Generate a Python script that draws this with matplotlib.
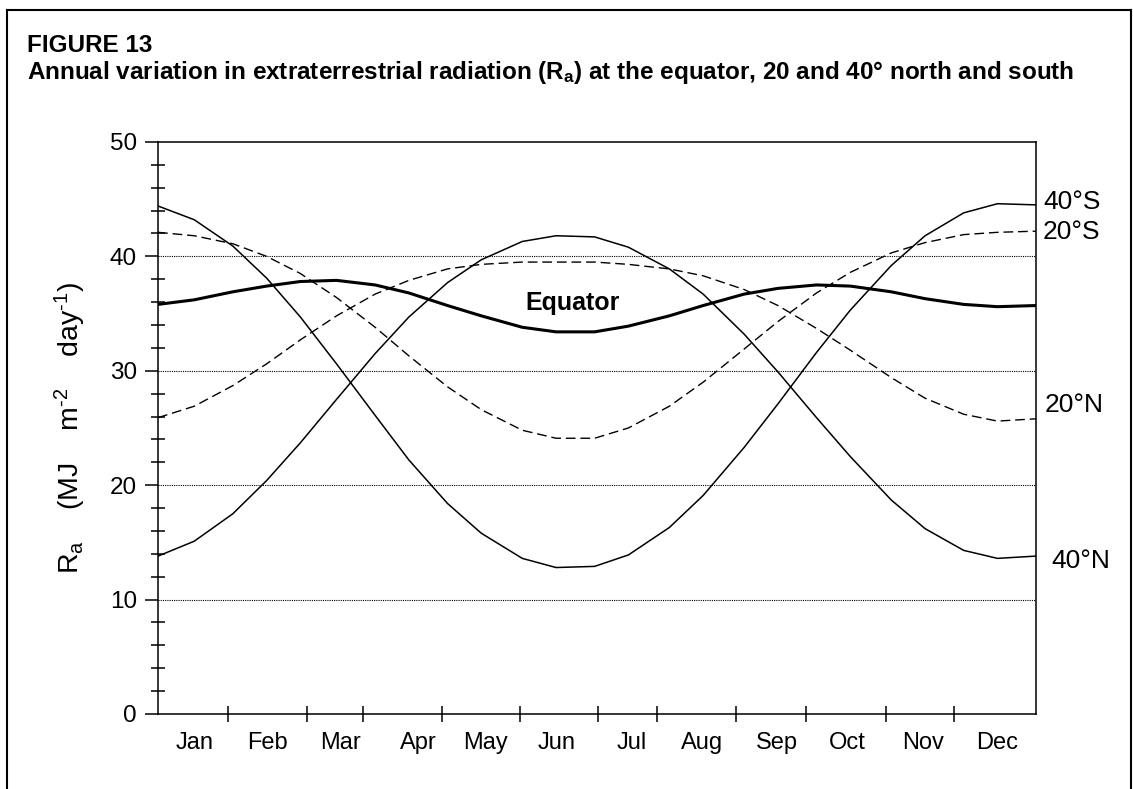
import numpy as np
import matplotlib.pyplot as plt
from matplotlib.lines import Line2D

# Arial-like font everywhere, also inside the sub/superscripts
plt.rcParams['font.family'] = 'Liberation Sans'
plt.rcParams['mathtext.fontset'] = 'custom'
plt.rcParams['mathtext.rm'] = 'Liberation Sans'
plt.rcParams['mathtext.bf'] = 'Liberation Sans:bold'
plt.rcParams['mathtext.it'] = 'Liberation Sans:italic'

days = [1, 16, 32, 46, 60, 75, 91, 105, 121, 135, 152, 166, 182,
        196, 213, 227, 244, 258, 274, 288, 305, 319, 335, 349, 365]

# Ra in MJ m-2 day-1
ra_equator = [35.8, 36.2, 36.9, 37.4, 37.8, 37.9, 37.5, 36.8, 35.7, 34.8,
              33.8, 33.4, 33.4, 33.9, 34.8, 35.7, 36.7, 37.2, 37.5, 37.4,
              36.9, 36.3, 35.8, 35.6, 35.7]
ra_20n = [25.9, 26.9, 28.7, 30.6, 32.7, 34.8, 36.7, 37.9, 38.9, 39.3,
          39.5, 39.5, 39.5, 39.3, 38.9, 38.3, 37.1, 35.7, 33.7, 31.8,
          29.4, 27.6, 26.2, 25.6, 25.8]
ra_20s = [42.1, 41.8, 41.1, 40.0, 38.5, 36.4, 33.8, 31.3, 28.6, 26.6,
          24.8, 24.1, 24.1, 25.0, 26.9, 29.0, 31.9, 34.3, 36.8, 38.6,
          40.3, 41.2, 41.9, 42.1, 42.2]
ra_40n = [13.8, 15.1, 17.5, 20.4, 23.7, 27.5, 31.5, 34.7, 37.7, 39.7,
          41.3, 41.8, 41.7, 40.8, 38.9, 36.7, 33.2, 29.9, 25.9, 22.5,
          18.7, 16.2, 14.3, 13.6, 13.8]
ra_40s = [44.4, 43.2, 40.9, 38.1, 34.7, 30.6, 26.1, 22.2, 18.4, 15.8,
          13.6, 12.8, 12.9, 13.9, 16.3, 19.1, 23.3, 27.1, 31.6, 35.3,
          39.2, 41.8, 43.8, 44.6, 44.5]

# Month boundary ticks and month label positions (day of year)
month_edges = [30, 62.8, 86, 118.7, 151.1, 183.5, 207.9, 240.6,
               269.7, 302.8, 331]
month_label_pos = [16.3, 46.2, 76.5, 108.8, 136.6, 166.4, 197.5, 226.5,
                   257.6, 286.7, 318.2, 348.8]
months = ['Jan', 'Feb', 'Mar', 'Apr', 'May', 'Jun', 'Jul', 'Aug', 'Sep',
          'Oct', 'Nov', 'Dec']

fig = plt.figure(figsize=(11.33, 7.89), dpi=100)
ax = fig.add_axes([0.1395, 0.0951, 0.7749, 0.7250])

# Dotted horizontal reference lines
for level in [10, 20, 30, 40]:
    ax.axhline(level, color='black', lw=0.8, ls=(0, (1, 1)), zorder=1)

dash = (0, (7, 3.5))
ax.plot(days, ra_40s, color='black', lw=1.1, zorder=3)
ax.plot(days, ra_40n, color='black', lw=1.1, zorder=3)
ax.plot(days, ra_20s, color='black', lw=1.0, ls=dash, zorder=3)
ax.plot(days, ra_20n, color='black', lw=1.0, ls=dash, zorder=3)
ax.plot(days, ra_equator, color='black', lw=2.2, zorder=4)

ax.set_xlim(1, 365)
ax.set_ylim(0, 50)

# y axis: labelled ticks every 10, small crossing ticks every 2
ax.set_yticks(range(0, 51, 10))
ax.set_yticks(np.arange(0, 51, 2), minor=True)
ax.tick_params(axis='y', which='major', direction='out', length=9.4,
               width=1.1, labelsize=17.5, pad=5.8)
ax.tick_params(axis='y', which='minor', direction='inout', length=9.6,
               width=1.1)

# x axis: ticks on month boundaries, names in between
ax.set_xticks(month_edges)
ax.set_xticklabels([])
ax.set_xticks(month_label_pos, minor=True)
ax.set_xticklabels(months, minor=True)
ax.tick_params(axis='x', which='major', direction='inout', length=11.5,
               width=1.1)
ax.tick_params(axis='x', which='minor', length=0, labelsize=17, pad=13)

for side in ax.spines.values():
    side.set_linewidth(1.1)

# hyphen (not a minus sign) in the exponents, as in the original
hy = '\N{HYPHEN}'
ax.set_ylabel(r'R$_\mathregular{a}$    (MJ    m$^\mathregular{' + hy +
              r'2}$    day$^\mathregular{' + hy + r'1}$)',
              fontsize=20.5, va='center')
ax.yaxis.set_label_coords(-0.100, 0.5)

# Curve labels at the right-hand side
lab = ax.get_yaxis_transform()
ax.text(1.008, 44.75, '40°S', fontsize=19, va='center', transform=lab)
ax.text(1.008, 42.1, '20°S', fontsize=19, va='center', transform=lab)
ax.text(1.010, 27.0, '20°N', fontsize=19, va='center', transform=lab)
ax.text(1.017, 13.4, '40°N', fontsize=19, va='center', transform=lab)
ax.text(173, 35.3, 'Equator', fontsize=18, fontweight='bold',
        ha='center', va='baseline')

# Figure heading
fig.text(0.0238, 1 - 52 / 789, 'FIGURE 13', fontsize=17.5,
         fontweight='bold', va='baseline')
fig.text(0.0238, 1 - 78.5 / 789,
         r'Annual variation in extraterrestrial radiation (R$_\mathbf{a}$) '
         r'at the equator, 20 and 40° north and south',
         fontsize=17.5, fontweight='bold', va='baseline')

# Frame round the figure (open at the bottom)
x0, x1, ytop = 7 / 1133, 1131 / 1133, 1 - 9.5 / 789
for xs, ys in [([x0, x0], [0, ytop]), ([x0, x1], [ytop, ytop]),
               ([x1, x1], [ytop, 0])]:
    fig.add_artist(Line2D(xs, ys, transform=fig.transFigure,
                          color='black', lw=1.5))

fig.savefig('out.png', dpi=100)
